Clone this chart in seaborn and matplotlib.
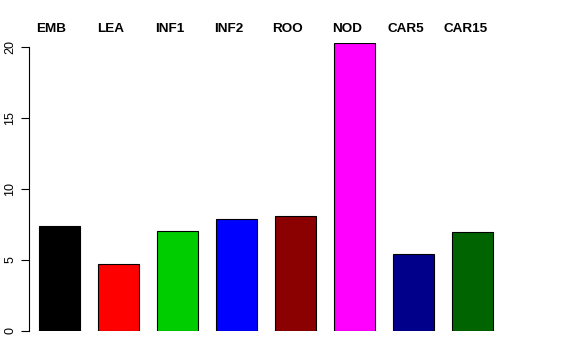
import numpy as np
import pandas as pd
import seaborn as sns
import matplotlib.pyplot as plt

# tissue groups and values
tissues = ["EMB", "LEA", "INF1", "INF2", "ROO", "NOD", "CAR5", "CAR15"]
values = [7.39, 4.72, 7.04, 7.89, 8.10, 20.30, 5.42, 6.97]
colors = ["#000000", "#FF0000", "#00CD00", "#0000FF",
          "#8B0000", "#FF00FF", "#00008B", "#006400"]
yticks = [0, 5, 10, 15, 20]

df = pd.DataFrame({"tissue": tissues, "value": values})

sns.set_style("white")
plt.rcParams["font.family"] = ["Liberation Sans", "DejaVu Sans"]
plt.rcParams["text.color"] = "black"
plt.rcParams["ytick.color"] = "black"

W, H = 576, 360
fig = plt.figure(figsize=(W / 100, H / 100), dpi=100)

# axes placed in pixel units, like R's plot region
left_px, right_px = 29, 502
bottom_px, top_px = 331, 42.7
ax = fig.add_axes([left_px / W, (H - bottom_px) / H,
                   (right_px - left_px) / W, (bottom_px - top_px) / H])

sns.barplot(data=df, x="tissue", y="value", hue="tissue", palette=colors,
            saturation=1, width=0.71, edgecolor="black", linewidth=0.8,
            legend=False, ax=ax)

ax.set_xlim(-0.517, 7.5)
ax.set_ylim(0, 20.3)
ax.set_xlabel("")
ax.set_ylabel("")
ax.set_xticks([])
ax.set_yticks(yticks)
ax.set_yticklabels([str(t) for t in yticks], rotation=90, va="center", fontsize=9)
ax.tick_params(axis="y", direction="out", length=6, width=0.8, pad=3, left=True)

for side in ["top", "right", "bottom"]:
    ax.spines[side].set_visible(False)
ax.spines["left"].set_bounds(0, 20)
ax.spines["left"].set_linewidth(0.8)
ax.spines["left"].set_color("black")

# group names along the top
first_px, step_px = 51.5, 59.1
for i, name in enumerate(tissues):
    fig.text((first_px + step_px * i) / W, 1 - 29.5 / H, name,
             ha="center", va="center", fontsize=9.7, fontweight="bold")

fig.savefig("out.png", dpi=100)
